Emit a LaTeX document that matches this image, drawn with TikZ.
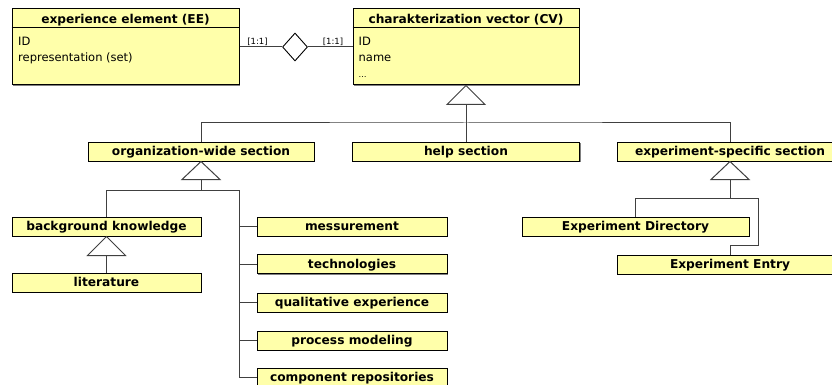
\documentclass[tikz,border=0pt]{standalone}
\usepackage{fontspec}
\setmainfont{DejaVu Sans}
\usetikzlibrary{shapes.geometric,shadows}
\definecolor{boxfill}{HTML}{FFFFAA}
\definecolor{linegray}{HTML}{404040}
\tikzset{
  box/.style={draw=black, fill=boxfill, line width=1pt, inner sep=0pt,
    minimum height=19pt, text height=8.9pt, text depth=0pt,
    font=\fontsize{12.2}{14}\selectfont\bfseries,
    drop shadow={shadow xshift=1.2pt, shadow yshift=-1.2pt, fill=black!50, opacity=1}},
  classbox/.style={box, minimum height=76pt},
  attr/.style={anchor=base west, inner sep=0pt, font=\fontsize{11.5}{13}\selectfont},
  head/.style={anchor=base, inner sep=0pt, font=\fontsize{12.2}{14}\selectfont\bfseries},
  card/.style={anchor=base, inner sep=0pt, font=\fontsize{8.5}{10}\selectfont},
  conn/.style={draw=linegray, line width=1pt},
  gentri/.style={draw=linegray, line width=1pt, fill=white, line join=miter},
}
\begin{document}
\begin{tikzpicture}[x=1pt, y=-1pt]
\useasboundingbox (0,0) rectangle (832,385);
\clip (0,0) rectangle (832,385);

% ---- entity classes ----
\node[classbox, minimum width=227pt] (EE) at (125.5,47) {};
\draw[line width=1pt] ([yshift=-19pt]EE.north west) -- ([yshift=-19pt]EE.north east);
\node[head] (EEh) at (125.5,23.5) {experience element (EE)};
\node[attr] (EEa) at (18,46) {ID};
\node[attr] (EEb) at (18,62) {representation (set)};

\node[classbox, minimum width=226pt] (CV) at (466,47) {};
\draw[line width=1pt] ([yshift=-19pt]CV.north west) -- ([yshift=-19pt]CV.north east);
\node[head] (CVh) at (466,23.5) {charakterization vector (CV)};
\node[attr] (CVa) at (358.5,46) {ID};
\node[attr] (CVb) at (358.5,62) {name};
\node[attr] (CVc) at (358.5,78) {\fontsize{8}{10}\selectfont\dots};

% ---- relationship ----
\node[diamond, draw=black, line width=0.9pt, fill=white, inner sep=0pt,
      minimum width=25pt, minimum height=28pt] (rel) at (295,47) {};
\draw[conn] (EE.east) -- (rel.west);
\draw[conn] (rel.east) -- (CV.west);
\node[card] (c1) at (257.5,44.5) {[1:1]};
\node[card] (c2) at (333,44.5) {[1:1]};

% ---- sections ----
\node[box, minimum width=226pt] (org)  at (201,151.5)   {organization-wide section};
\node[box, minimum width=227pt] (help) at (466,151.5)   {help section};
\node[box, minimum width=226pt] (exp)  at (730,151.5)   {experiment-specific section};

% generalisation of CV
\coordinate (cvT) at ([yshift=-19pt]CV.south);
\coordinate (cvbus) at (466,123);
\draw[conn] (cvT) -- (help.north);
\draw[conn] (org.north) |- (cvbus) -| (exp.north);
\draw[gentri] (CV.south) -- ++(-19,19) -- ++(38,0) -- cycle;

% ---- organization-wide subsections ----
\node[box, minimum width=189pt] (bg)   at (106.5,226.5) {background knowledge};
\node[box, minimum width=189pt] (lit)  at (106.5,282.5) {literature};
\node[box, minimum width=190pt] (mess) at (352,226.5)   {messurement};
\node[box, minimum width=190pt] (tech) at (352,264)     {technologies};
\node[box, minimum width=190pt] (qual) at (352,302.5)   {qualitative experience};
\node[box, minimum width=190pt] (proc) at (352,340.5)   {process modeling};
\node[box, minimum width=190pt] (comp) at (352,377.5)   {component repositories};

\coordinate (orgT) at ([yshift=-18pt]org.south);
\coordinate (orgbus) at (201,190);
\coordinate (orgR) at (239,190);
\draw[conn] (orgT) -- (orgbus);
\draw[conn] (bg.north) |- (orgR) |- (comp.west);
\draw[conn] (mess.west) -- (mess.west -| orgR);
\draw[conn] (tech.west) -- (tech.west -| orgR);
\draw[conn] (qual.west) -- (qual.west -| orgR);
\draw[conn] (proc.west) -- (proc.west -| orgR);
\draw[gentri] (org.south) -- ++(-19,18) -- ++(38,0) -- cycle;

\coordinate (bgT) at ([yshift=-19pt]bg.south);
\draw[conn] (bgT) -- (lit.north);
\draw[gentri] (bg.south) -- ++(-19,19) -- ++(38,0) -- cycle;

% ---- experiment-specific subsections ----
\node[box, minimum width=227pt] (dir)   at (635.5,226.5) {Experiment Directory};
\node[box, minimum width=226pt] (entry) at (730,264.5)   {Experiment Entry};

\coordinate (expT) at ([yshift=-18pt]exp.south);
\coordinate (expbus) at (730,198);
\coordinate (expR) at (758,198);
\coordinate (expK) at (758,245.5);
\draw[conn] (expT) -- (expbus);
\draw[conn] (dir.north) |- (expR) -- (expK) -| (entry.north);
\draw[gentri] (exp.south) -- ++(-19,18) -- ++(38,0) -- cycle;
\end{tikzpicture}
\end{document}
